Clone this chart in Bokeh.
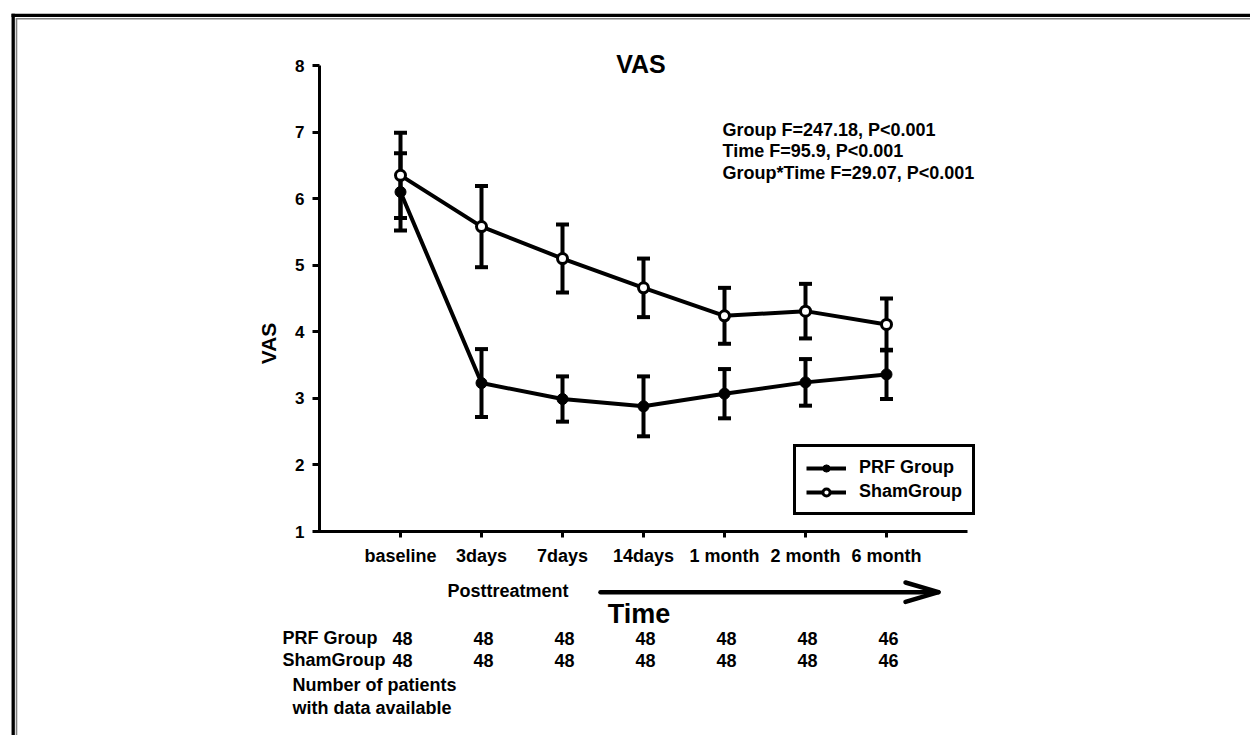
import math
from bokeh.plotting import figure
from bokeh.models import (ColumnDataSource, Whisker, TeeHead, Label, LabelSet, Arrow,
                          Legend, LegendItem, FixedTicker, LinearAxis)
from bokeh.core.properties import value
from bokeh.embed import file_html
from bokeh.resources import INLINE

# ---------------- data ----------------
time_points = ["baseline", "3days", "7days", "14days", "1 month", "2 month", "6 month"]
prf_mean = [6.10, 3.23, 2.99, 2.88, 3.07, 3.24, 3.36]
prf_sd = [0.58, 0.51, 0.34, 0.45, 0.37, 0.35, 0.37]
sham_mean = [6.35, 5.58, 5.10, 4.66, 4.24, 4.31, 4.11]
sham_sd = [0.64, 0.61, 0.51, 0.44, 0.42, 0.41, 0.39]
prf_n = [48, 48, 48, 48, 48, 48, 46]
sham_n = [48, 48, 48, 48, 48, 48, 46]
y_ticks = [1, 2, 3, 4, 5, 6, 7, 8]
stats_lines = ["Group F=247.18, P<0.001", "Time F=95.9, P<0.001", "Group*Time F=29.07, P<0.001"]

# ---------------- layout constants (page pixels) ----------------
W, H = 1250, 735
PLOT_L, PLOT_R, PLOT_T, PLOT_B = 319, 967, 65, 531   # where the axes box sits
X0, X1 = 0, len(time_points) + 1
Y0, Y1 = y_ticks[0], y_ticks[-1]
FONT = "Liberation Sans"


def dx(px):
    return X0 + (px - PLOT_L) * (X1 - X0) / (PLOT_R - PLOT_L)


def dy(py):
    return Y0 + (PLOT_B - py) * (Y1 - Y0) / (PLOT_B - PLOT_T)


x = list(range(1, len(time_points) + 1))

p = figure(width=W, height=H, x_range=(dx(0), dx(W)), y_range=(dy(H), dy(0)),
           output_backend="svg", toolbar_location=None, title=None,
           x_axis_location=None, y_axis_location=None,
           min_border=0, min_border_left=0, min_border_right=0,
           min_border_top=0, min_border_bottom=0,
           background_fill_color="white", border_fill_color="white")
p.outline_line_color = None
p.xgrid.visible = False
p.ygrid.visible = False

# axes placed at the plot box
xaxis = LinearAxis(fixed_location=Y0, bounds=(dx(314), X1),
                   ticker=FixedTicker(ticks=x),
                   major_label_overrides={xi: lab for xi, lab in zip(x, time_points)},
                   major_tick_out=6, major_label_standoff=8,
                   major_label_text_font_size="18px")
yaxis = LinearAxis(fixed_location=X0, bounds=(Y0, Y1),
                   ticker=FixedTicker(ticks=y_ticks),
                   major_tick_out=7, major_label_standoff=8,
                   major_label_text_font_size="17px")
for ax in (xaxis, yaxis):
    ax.axis_line_width = 3
    ax.axis_line_color = "black"
    ax.major_tick_line_width = 3
    ax.major_tick_line_color = "black"
    ax.major_tick_in = 0
    ax.minor_tick_line_color = None
    ax.major_label_text_font = FONT
    ax.major_label_text_font_style = "bold"
    ax.major_label_text_color = "black"
p.add_layout(xaxis, "below")
p.add_layout(yaxis, "left")

# data sources
src = ColumnDataSource(dict(
    x=x, prf=prf_mean, sham=sham_mean,
    prf_lo=[m - s for m, s in zip(prf_mean, prf_sd)],
    prf_hi=[m + s for m, s in zip(prf_mean, prf_sd)],
    sham_lo=[m - s for m, s in zip(sham_mean, sham_sd)],
    sham_hi=[m + s for m, s in zip(sham_mean, sham_sd)],
))

l_prf = p.line("x", "prf", source=src, line_width=4, line_color="black")
l_sham = p.line("x", "sham", source=src, line_width=4, line_color="black")

for lo, hi in (("prf_lo", "prf_hi"), ("sham_lo", "sham_hi")):
    w = Whisker(base="x", lower=lo, upper=hi, source=src, dimension="height",
                line_width=4, line_color="black", level="underlay",
                upper_head=TeeHead(size=13, line_width=4, line_color="black"),
                lower_head=TeeHead(size=13, line_width=4, line_color="black"))
    p.add_layout(w)

s_prf = p.scatter("x", "prf", source=src, marker="circle", size=11,
                  fill_color="black", line_color="black", line_width=1)
s_sham = p.scatter("x", "sham", source=src, marker="circle", size=10,
                   fill_color="white", line_color="black", line_width=3)

legend = Legend(items=[LegendItem(label="PRF Group", renderers=[l_prf, s_prf]),
                       LegendItem(label="ShamGroup", renderers=[l_sham, s_sham])],
                location=(793, H - 515),
                border_line_color="black", border_line_width=3, border_line_alpha=1,
                background_fill_color="white", background_fill_alpha=1,
                padding=10, spacing=3, margin=0, glyph_width=40, glyph_height=18,
                label_height=18, label_standoff=13,
                label_text_font=FONT, label_text_font_style="bold",
                label_text_font_size="18px", label_text_color="black")
p.add_layout(legend)


def add_label(text, px, py, size, align="left", baseline="alphabetic", angle=0.0, style="bold"):
    # py is the wanted glyph baseline; Bokeh's label box sits a little lower
    shift = 0.34 * size if baseline == "alphabetic" else 0.0
    p.add_layout(Label(x=dx(px), y=dy(py - shift), text=text, text_align=align,
                       text_baseline=baseline, angle=angle,
                       text_font=FONT, text_font_style=style,
                       text_font_size=f"{size}px", text_color="black"))


# title and y-axis label
add_label("VAS", 640.5, 72, 25, align="center")
add_label("VAS", 268, 343, 21, align="center", baseline="middle", angle=math.pi / 2)

# statistics
for i, line in enumerate(stats_lines):
    add_label(line, 722, 135.7 + 21.3 * i, 18)

# posttreatment arrow and Time
add_label("Posttreatment", 447, 597, 18)
add_label("Time", 638.5, 623, 27, align="center")
arrow_kw = dict(end=None, line_width=4.5, line_color="black", line_cap="round")
p.add_layout(Arrow(x_start=dx(600), y_start=dy(591.7), x_end=dx(936), y_end=dy(591.7), **arrow_kw))
p.add_layout(Arrow(x_start=dx(905), y_start=dy(582), x_end=dx(938), y_end=dy(591.7), **arrow_kw))
p.add_layout(Arrow(x_start=dx(905), y_start=dy(601.4), x_end=dx(938), y_end=dy(591.7), **arrow_kw))

# patient counts table
add_label("PRF Group", 282, 644, 18)
add_label("ShamGroup", 282, 666, 18)
cnt = ColumnDataSource(dict(x=x, prf=[str(n) for n in prf_n], sham=[str(n) for n in sham_n],
                            yp=[dy(644)] * len(x), ys=[dy(666)] * len(x)))
for col, ycol in (("prf", "yp"), ("sham", "ys")):
    p.add_layout(LabelSet(x="x", y=ycol, text=col, source=cnt, x_offset=2,
                          text_align="center", text_baseline="alphabetic",
                          text_font=value(FONT), text_font_style="bold",
                          text_font_size="18px", text_color="black"))
add_label("Number of patients", 292, 691, 18)
add_label("with data available", 292, 714, 18)

# frame border lines (top and left)
border_black = dict(end=None, line_color="black", line_width=3.3)
border_gray = dict(end=None, line_color="#808080", line_width=1.6)
p.add_layout(Arrow(x_start=dx(12.7), y_start=dy(760), x_end=dx(12.7), y_end=dy(13.2), **border_black))
p.add_layout(Arrow(x_start=dx(11), y_start=dy(14.8), x_end=dx(1300), y_end=dy(14.8), **border_black))
p.add_layout(Arrow(x_start=dx(16), y_start=dy(760), x_end=dx(16), y_end=dy(18.2), **border_gray))
p.add_layout(Arrow(x_start=dx(15.2), y_start=dy(18.2), x_end=dx(1300), y_end=dy(18.2), **border_gray))

open("out.html", "w").write(file_html(p, INLINE))
